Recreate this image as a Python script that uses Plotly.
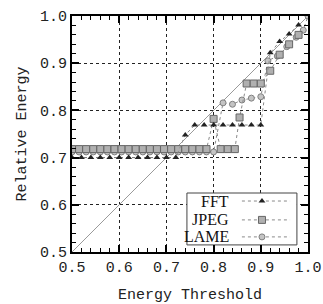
import plotly.graph_objects as go

# ---- data ----
diag_x = [0.5, 1.0]
diag_y = [0.5, 1.0]

fft_x = [0.50, 0.52, 0.54, 0.56, 0.58, 0.60, 0.62, 0.64, 0.66, 0.68, 0.70, 0.72,
         0.74, 0.76, 0.78, 0.80, 0.82, 0.84, 0.86, 0.88, 0.90,
         0.92, 0.94, 0.96, 0.98]
fft_y = [0.700, 0.700, 0.700, 0.700, 0.700, 0.700, 0.700, 0.700, 0.700, 0.700, 0.700, 0.700,
         0.748, 0.769, 0.769, 0.769, 0.769, 0.769, 0.769, 0.769, 0.769,
         0.922, 0.946, 0.962, 0.981]

jpeg_x = [0.500, 0.515, 0.530, 0.545, 0.560, 0.575, 0.590, 0.605, 0.620, 0.635,
          0.650, 0.665, 0.680, 0.695, 0.710, 0.725, 0.740, 0.755, 0.770, 0.785,
          0.800, 0.815, 0.830, 0.845, 0.855,
          0.870, 0.885, 0.900, 0.920, 0.940, 0.960, 0.980]
jpeg_y = [0.718, 0.718, 0.718, 0.718, 0.718, 0.718, 0.718, 0.718, 0.718, 0.718,
          0.718, 0.718, 0.718, 0.718, 0.718, 0.718, 0.718, 0.718, 0.718, 0.718,
          0.782, 0.718, 0.718, 0.718, 0.785,
          0.857, 0.857, 0.857, 0.884, 0.918, 0.940, 0.960]

lame_x = [0.500, 0.515, 0.530, 0.545, 0.560, 0.575, 0.590, 0.605, 0.620, 0.635,
          0.650, 0.665, 0.680, 0.695, 0.710, 0.725, 0.740, 0.755, 0.770, 0.785, 0.800,
          0.820, 0.840, 0.860, 0.880, 0.900,
          0.915, 0.935, 0.955, 0.975, 0.990, 1.000]
lame_y = [0.712, 0.712, 0.712, 0.712, 0.712, 0.712, 0.712, 0.712, 0.712, 0.712,
          0.712, 0.712, 0.712, 0.712, 0.712, 0.712, 0.712, 0.712, 0.712, 0.712, 0.712,
          0.816, 0.813, 0.822, 0.826, 0.829,
          0.905, 0.915, 0.935, 0.955, 0.970, 1.000]

series_names = ["FFT", "JPEG", "LAME"]
tick_vals = [0.5, 0.6, 0.7, 0.8, 0.9, 1.0]
tick_text = ["0.5", "0.6", "0.7", "0.8", "0.9", "1.0"]

# legend layout (fraction of plot area)
leg_box_x = [0.487, 0.953, 0.953, 0.487, 0.487]
leg_box_y = [0.03, 0.03, 0.25, 0.25, 0.03]
leg_line_x = [0.72, 0.805, 0.924]
leg_rows_y = [0.216, 0.136, 0.064]

styles = {
    "FFT": dict(symbol="triangle-up", size=6, color="#222222", line=dict(width=0)),
    "JPEG": dict(symbol="square", size=7, color="#b0b0b0", line=dict(width=1, color="#666666")),
    "LAME": dict(symbol="circle", size=6, color="#c4c4c4", line=dict(width=1, color="#808080")),
}
dotline = dict(color="#8a8a8a", width=1, dash="dot")

fig = go.Figure()

fig.add_trace(go.Scatter(x=diag_x, y=diag_y, mode="lines",
                         line=dict(color="#9a9a9a", width=1), showlegend=False, hoverinfo="skip"))

for name, xs, ys in [("LAME", lame_x, lame_y), ("JPEG", jpeg_x, jpeg_y), ("FFT", fft_x, fft_y)]:
    fig.add_trace(go.Scatter(x=xs, y=ys, mode="lines+markers", name=name,
                             line=dotline, marker=styles[name], showlegend=False))

# custom legend (text left, sample right) on an overlay axis
fig.add_trace(go.Scatter(x=leg_box_x, y=leg_box_y, mode="lines", fill="toself",
                         fillcolor="white", line=dict(color="#444444", width=1),
                         xaxis="x2", yaxis="y2", showlegend=False, hoverinfo="skip"))
for name, ry in zip(series_names, leg_rows_y):
    fig.add_trace(go.Scatter(x=[leg_line_x[0], leg_line_x[2]], y=[ry, ry], mode="lines",
                             line=dotline, xaxis="x2", yaxis="y2", showlegend=False, hoverinfo="skip"))
    fig.add_trace(go.Scatter(x=[leg_line_x[1]], y=[ry], mode="markers", marker=styles[name],
                             xaxis="x2", yaxis="y2", showlegend=False, hoverinfo="skip"))
    fig.add_annotation(x=0.672, y=ry, xref="x2", yref="y2", text=name, showarrow=False,
                       xanchor="right", yanchor="middle",
                       font=dict(family="Liberation Serif", size=16, color="#111111"))

axis_common = dict(
    range=[0.5, 1.0], tickvals=tick_vals, ticktext=tick_text,
    showline=True, linecolor="black", linewidth=2, mirror="allticks",
    ticks="inside", ticklen=7, tickwidth=1.5, tickcolor="black",
    showgrid=True, gridcolor="#222222", gridwidth=1, griddash="dot",
    zeroline=False, automargin=False,
    minor=dict(dtick=0.02, ticks="inside", ticklen=4, tickwidth=1, tickcolor="black", showgrid=False),
    tickfont=dict(family="Liberation Mono", size=15, color="#222222"),
)

fig.update_layout(
    width=323, height=304,
    margin=dict(l=72, r=15, t=16, b=52),
    paper_bgcolor="white", plot_bgcolor="white",
    xaxis=dict(**axis_common,
               title=dict(text="Energy Threshold", standoff=19,
                          font=dict(family="Liberation Mono", size=15, color="#222222"))),
    yaxis=dict(**axis_common,
               title=dict(text="Relative Energy", standoff=10,
                          font=dict(family="Liberation Mono", size=15, color="#222222"))),
    xaxis2=dict(range=[0, 1], overlaying="x", visible=False),
    yaxis2=dict(range=[0, 1], overlaying="y", visible=False),
    showlegend=False,
)

fig.write_html("out.html", config={"displayModeBar": False},
               post_script="document.body.style.margin='0px';document.body.style.overflow='hidden';")
